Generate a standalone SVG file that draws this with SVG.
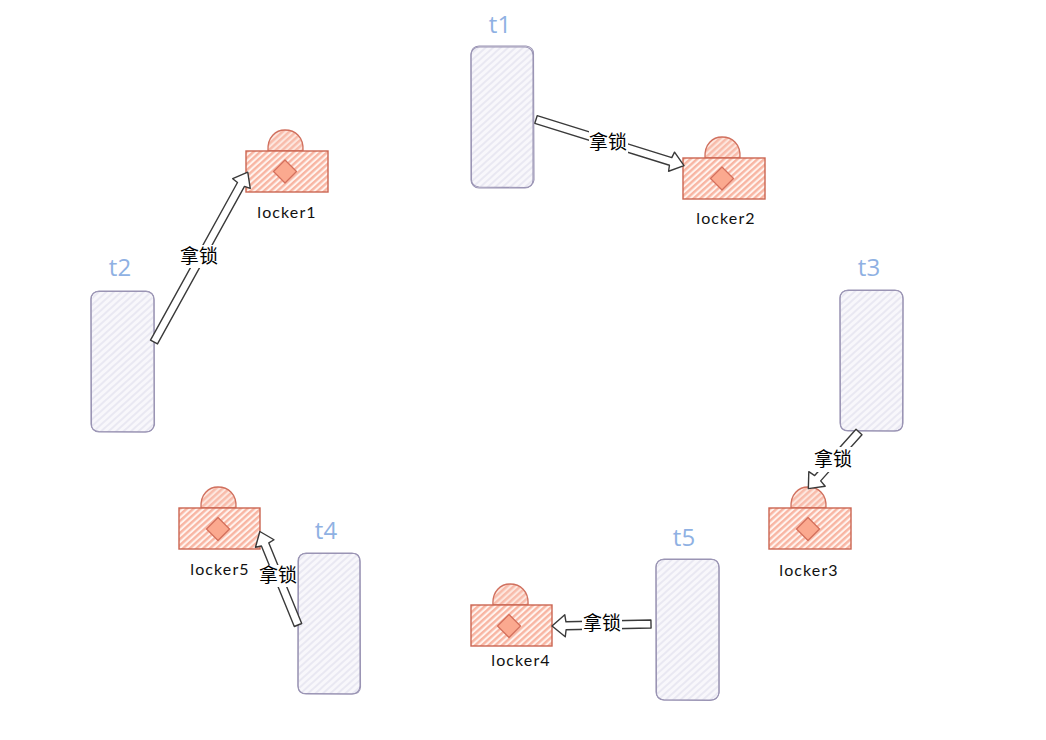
<svg xmlns="http://www.w3.org/2000/svg" width="1046" height="740" viewBox="0 0 1046 740">
<style>
.tb{fill:url(#ht);stroke:none}
.ts{fill:none;stroke:#9a94b4;stroke-width:1.1}
.lb{fill:url(#hl);stroke:#cb6552;stroke-width:1.4}
.dm{fill:url(#hd);stroke:#d0705e;stroke-width:1.3}
.di{fill:#fba98f;stroke:#d4705c;stroke-width:1.3;stroke-linejoin:round}
.tl{font-family:"Open Sans","Liberation Sans",sans-serif;font-size:24px;fill:#8fb1e3;text-anchor:middle}
.ll{font-family:"Lato","Liberation Sans",sans-serif;font-size:16px;letter-spacing:1.1px;fill:#111;text-anchor:middle}
.ar{fill:#fff;stroke:#3a3a3a;stroke-width:1.4;stroke-linejoin:round}
.lr{fill:#fff}
.el{font-family:"Noto Sans CJK SC",sans-serif;font-size:19px;fill:#000;text-anchor:middle}
</style>
<defs>
<pattern id="ht" width="5" height="5" patternUnits="userSpaceOnUse" patternTransform="rotate(-42)"><rect width="5" height="5" fill="#f8f7fb"/><rect width="5" height="2" fill="#e9e8f2"/></pattern>
<pattern id="hl" width="4.500" height="4.500" patternUnits="userSpaceOnUse" patternTransform="rotate(-42)"><rect width="4.500" height="4.500" fill="#fff3ee"/><rect width="4.500" height="2.400" fill="#f8b5a2"/></pattern>
<pattern id="hd" width="4.500" height="4.500" patternUnits="userSpaceOnUse" patternTransform="rotate(-42)"><rect width="4.500" height="4.500" fill="#fde6de"/><rect width="4.500" height="2.400" fill="#f8bbaa"/></pattern>
</defs>

<g id="t1" transform="translate(471 46)">
<rect class="tb" x="1" y="1" width="61" height="140" rx="7"/>
<rect class="ts" x="0" y="1" width="62" height="141" rx="8"/>
<path class="ts" d="M8 0H55Q63 1 62.500 9L63 134Q62 141 54 141.500L8 141Q0 140 0.500 133L0 8Q0.500 0.500 8 0Z"/>
<text class="tl" x="29" y="-13">t1</text>
</g>
<g id="t2" transform="translate(91 291)">
<rect class="tb" x="1" y="1" width="61" height="140" rx="7"/>
<rect class="ts" x="0" y="0" width="63" height="141" rx="8"/>
<path class="ts" d="M8 0.500H55Q63 1 63 9L63.500 134Q62 141 54 141L8 140.500Q0 140 0.500 133L0 8Q0.500 0.500 8 0.500Z"/>
<text class="tl" x="29" y="-15">t2</text>
</g>
<g id="t3" transform="translate(840 290)">
<rect class="tb" x="1" y="1" width="61" height="140" rx="7"/>
<rect class="ts" x="0" y="0" width="63" height="141" rx="8"/>
<path class="ts" d="M8 0.500H55Q63 0 63 9L62.500 134Q63 141 54 141L8 140.500Q0 141 0.500 133L0 8Q0.500 0.500 8 0.500Z"/>
<text class="tl" x="29" y="-14">t3</text>
</g>
<g id="t4" transform="translate(298 553)">
<rect class="tb" x="1" y="1" width="61" height="140" rx="7"/>
<rect class="ts" x="0" y="0" width="62" height="141" rx="8"/>
<path class="ts" d="M8 0.500H55Q62 0 62 9L62.500 134Q62 141 54 141L8 140.500Q0 141 0 133L0.500 8Q0.500 0.500 8 0.500Z"/>
<text class="tl" x="28" y="-14">t4</text>
</g>
<g id="t5" transform="translate(656 559)">
<rect class="tb" x="1" y="1" width="61" height="140" rx="7"/>
<rect class="ts" x="0" y="0" width="63" height="141" rx="8"/>
<path class="ts" d="M8 0.500H55Q63 0 63 9L63 134Q62 141 54 141.500L8 141Q0 140 0.500 133L0 8Q0.500 0.500 8 0.500Z"/>
<text class="tl" x="28" y="-13">t5</text>
</g>

<g id="locker1" transform="translate(246 151)">
<path class="dm" d="M22 0C21 -14 30 -21 39 -21C49 -21 58 -14 57 0Z"/>
<rect class="lb" x="0" y="0" width="82" height="41"/>
<path class="di" d="M39 9L50.500 20.500L39 32L27.500 20.500Z"/>
<text class="ll" x="41" y="67">locker1</text>
</g>
<g id="locker2" transform="translate(683 158)">
<path class="dm" d="M22 0C21 -14 30 -21 39 -21C49 -21 58 -14 57 0Z"/>
<rect class="lb" x="0" y="0" width="82" height="41"/>
<path class="di" d="M39 9L50.500 20.500L39 32L27.500 20.500Z"/>
<text class="ll" x="43" y="66">locker2</text>
</g>
<g id="locker3" transform="translate(769 508)">
<path class="dm" d="M22 0C21 -14 30 -21 39 -21C49 -21 58 -14 57 0Z"/>
<rect class="lb" x="0" y="0" width="82" height="41"/>
<path class="di" d="M39 9.500L50.500 21L39 32.500L27.500 21Z"/>
<text class="ll" x="40" y="68">locker3</text>
</g>
<g id="locker4" transform="translate(471 605)">
<path class="dm" d="M22 0C21 -14 30 -21 39 -21C49 -21 58 -14 57 0Z"/>
<rect class="lb" x="0" y="0" width="81" height="41"/>
<path class="di" d="M38 9.500L49.500 21L38 32.500L26.500 21Z"/>
<text class="ll" x="50" y="61">locker4</text>
</g>
<g id="locker5" transform="translate(179 508)">
<path class="dm" d="M22 0C21 -14 30 -21 39 -21C49 -21 58 -14 57 0Z"/>
<rect class="lb" x="0" y="0" width="81" height="41"/>
<path class="di" d="M39 9.500L50.500 21L39 32.500L27.500 21Z"/>
<text class="ll" x="41" y="67">locker5</text>
</g>

<g id="connectors">
<g transform="translate(536 119.500) rotate(17.300)">
<polygon class="ar" points="0,-4 141,-4 142,-10 155,0 142,10 141,4 0,4"/>
</g>
<rect class="lr" x="589" y="131" width="39" height="22"/>
<text class="el" x="608" y="149">拿锁</text>

<g transform="translate(154 342) rotate(-61.100)">
<polygon class="ar" points="0,-4 180,-4 181,-10 194,0 181,10 180,4 0,4"/>
</g>
<rect class="lr" x="179" y="245" width="40" height="23"/>
<text class="el" x="199" y="263">拿锁</text>

<g transform="translate(859 432) rotate(131.800)">
<polygon class="ar" points="0,-4 62,-4 63,-11 76,0 63,11 62,4 0,4"/>
</g>
<rect class="lr" x="813" y="447" width="40" height="25"/>
<text class="el" x="833" y="466">拿锁</text>

<g transform="translate(651 624) rotate(178.800)">
<polygon class="ar" points="0,-4 85,-4 86,-11 99,0 86,11 85,4 0,4"/>
</g>
<rect class="lr" x="582" y="612" width="40" height="23"/>
<text class="el" x="602" y="630">拿锁</text>

<g transform="translate(298 625) rotate(-112.200)">
<polygon class="ar" points="0,-4 87,-4 88,-10 101,0 88,10 87,4 0,4"/>
</g>
<rect class="lr" x="259" y="565" width="38" height="22"/>
<text class="el" x="278" y="582">拿锁</text>
</g>
</svg>
